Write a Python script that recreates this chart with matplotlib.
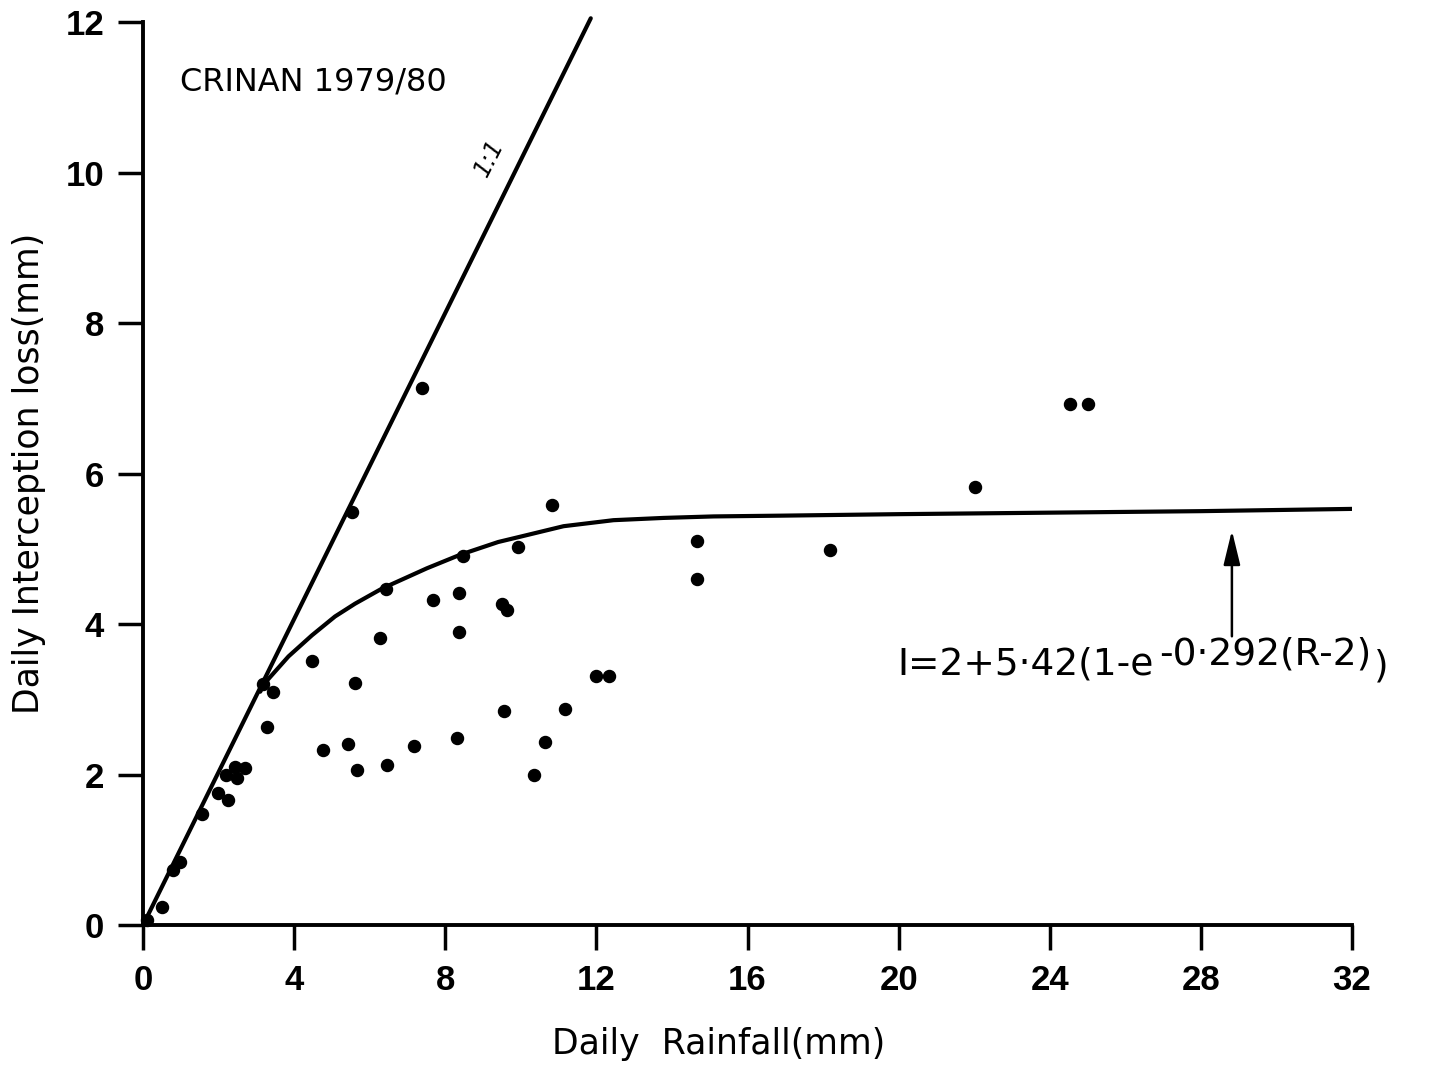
import numpy as np
import matplotlib
matplotlib.use("Agg")
import matplotlib.pyplot as plt

plt.rcParams["font.family"] = ["DejaVu Sans"]

# observed daily values (rainfall mm, interception loss mm)
rain = [0.10, 0.49, 0.80, 0.98, 1.55, 1.99, 2.20, 2.26, 2.43, 2.48, 2.70,
        3.18, 3.29, 3.45, 4.47, 4.77, 5.43, 5.52, 5.61, 5.66, 6.27, 6.43,
        6.45, 7.17, 7.38, 7.68, 8.30, 8.36, 8.37, 8.46, 9.49, 9.55, 9.63,
        9.93, 10.35, 10.64, 10.82, 11.17, 12.00, 12.32, 14.66, 14.67,
        18.18, 22.02, 24.54, 25.01]
loss = [0.07, 0.24, 0.73, 0.84, 1.48, 1.75, 2.00, 1.66, 2.10, 1.95, 2.08,
        3.20, 2.63, 3.09, 3.51, 2.32, 2.40, 5.49, 3.21, 2.06, 3.82, 4.47,
        2.12, 2.38, 7.14, 4.32, 2.49, 4.41, 3.89, 4.90, 4.27, 2.84, 4.18,
        5.03, 2.00, 2.43, 5.58, 2.87, 3.31, 3.31, 4.60, 5.10,
        4.98, 5.82, 6.92, 6.92]

# fitted curve as drawn
curve_r = [3.10, 3.23, 3.85, 4.47, 5.08, 5.61, 6.32, 7.51, 8.39, 9.40,
           9.98, 11.13, 12.45, 13.77, 15.10, 16.86, 20.0, 24.0, 28.0, 32.0]
curve_i = [3.10, 3.22, 3.57, 3.85, 4.10, 4.27, 4.47, 4.74, 4.92, 5.09,
           5.16, 5.30, 5.38, 5.41, 5.43, 5.44, 5.46, 5.48, 5.50, 5.53]

one_r = [0.0, 11.85]
one_i = [0.0, 12.05]

xticks = [0, 4, 8, 12, 16, 20, 24, 28, 32]
yticks = [0, 2, 4, 6, 8, 10, 12]

fig = plt.figure(figsize=(14.51, 10.70), dpi=100)
ax = fig.add_axes([0.0986, 0.1355, 0.8332, 0.8439])

ax.plot(one_r, one_i, color="black", lw=3.0, clip_on=False, solid_capstyle="round")
ax.plot(curve_r, curve_i, color="black", lw=3.0, solid_capstyle="round",
        solid_joinstyle="round")
ax.scatter(rain, loss, s=75, color="black", zorder=3, clip_on=False)

ax.set_xlim(0, 32)
ax.set_ylim(0, 12)
ax.set_xticks(xticks)
ax.set_yticks(yticks)
ax.tick_params(axis="both", direction="out", length=18, width=2.5, pad=10)
for lab in ax.get_xticklabels() + ax.get_yticklabels():
    lab.set_fontweight("bold")
    lab.set_fontsize(25)
    lab.set_family(["Liberation Sans", "DejaVu Sans"])

for side in ["top", "right"]:
    ax.spines[side].set_visible(False)
for side in ["left", "bottom"]:
    ax.spines[side].set_linewidth(2.8)

ax.set_xlabel("Daily  Rainfall(mm)", fontsize=25, labelpad=22)
ax.xaxis.label.set_x(0.476)
ax.set_ylabel("Daily Interception loss(mm)", fontsize=25, labelpad=14)

ax.text(0.98, 11.2, "CRINAN 1979/80", fontsize=23, va="center", ha="left")
ax.text(9.15, 10.2, "1:1", fontsize=17, rotation=63, ha="center", va="center",
        style="italic")

ax.annotate("", xy=(28.82, 5.28), xytext=(28.82, 3.80),
            arrowprops=dict(arrowstyle="-|>,head_length=0.7,head_width=0.17",
                            color="black", lw=1.8, mutation_scale=30))

# equation, written as three pieces so the exponent sits raised
t1 = ax.text(19.96, 3.22, "I=2+5·42(1-e", fontsize=27, va="bottom",
             ha="left")
t2 = ax.annotate("-0·292(R-2)", xy=(1, 0), xycoords=t1, xytext=(4, 7),
                 textcoords="offset points", fontsize=27, va="bottom",
                 ha="left")
ax.annotate(")", xy=(1, 0), xycoords=t2, xytext=(2, -8),
            textcoords="offset points", fontsize=27, va="bottom", ha="left")

fig.savefig("out.png", dpi=100)
